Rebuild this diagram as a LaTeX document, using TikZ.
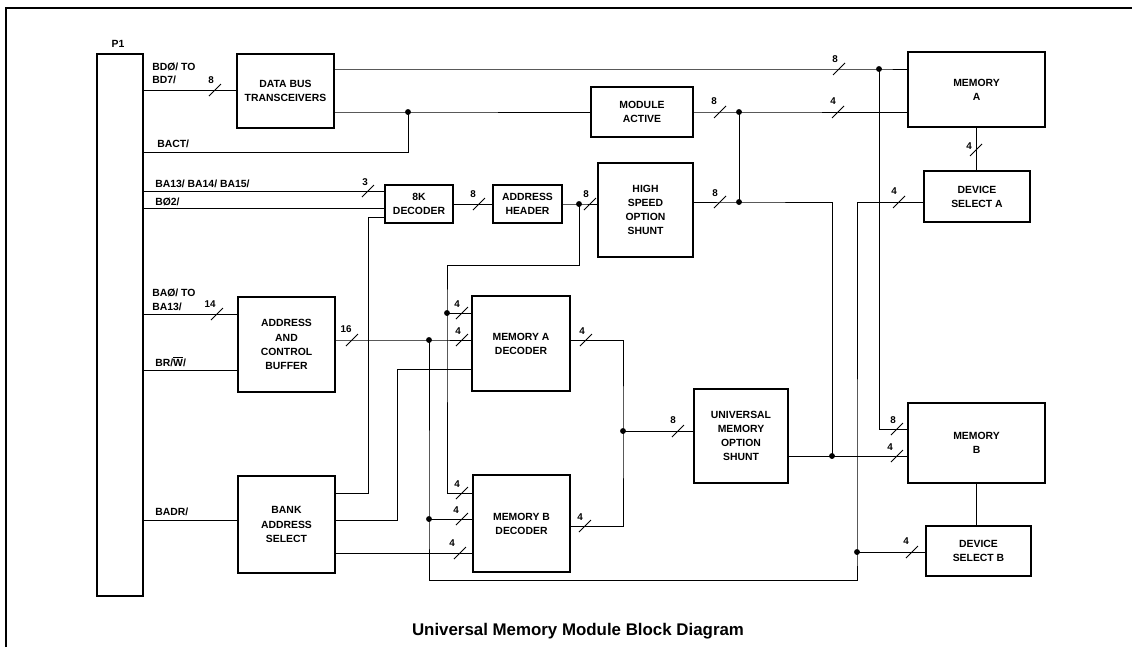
\documentclass[tikz,border=0pt]{standalone}
\usepackage{fontspec}
\setmainfont{Liberation Sans}
\usetikzlibrary{calc}

\newdimen\upx
\upx=0.025cm

\tikzset{
  bloque/.style 2 args={draw, line width=1.3pt, inner sep=0pt, align=center,
    minimum width=#1\upx, minimum height=#2\upx,
    font=\bfseries\fontsize{7.4}{10}\selectfont},
  senal/.style={anchor=mid west, inner sep=0pt, font=\bfseries\fontsize{7.4}{9}\selectfont},
  num/.style={inner sep=0pt, font=\bfseries\fontsize{7}{8}\selectfont},
  cable/.style={line width=0.7pt},
}

\begin{document}
\begin{tikzpicture}[x=0.025cm, y=-0.025cm]
\useasboundingbox (0,0) rectangle (1132,647);

% Marco
\draw[line width=1.4pt] (6,647) -- (6,8) -- (1132,8);

% Bloques
\node[bloque={46}{542}] (P1) at (120,325) {};
\node[num, font=\bfseries\fontsize{7.4}{9}\selectfont] (P1t) at (118,44) {P1};
\node[bloque={97}{74}] (DBT) at (285.5,91) {DATA BUS\\TRANSCEIVERS};
\node[bloque={102}{50}] (MA) at (642,112) {MODULE\\ACTIVE};
\node[bloque={68}{38}] (DEC8K) at (419,204) {8K\\DECODER};
\node[bloque={69}{38}] (AH) at (527.5,204) {ADDRESS\\HEADER};
\node[bloque={95}{94}] (HSOS) at (645.5,210) {HIGH\\SPEED\\OPTION\\SHUNT};
\node[bloque={97}{95}] (ACB) at (286.5,344.5) {ADDRESS\\AND\\CONTROL\\BUFFER};
\node[bloque={97}{97}] (BAS) at (286.5,524.5) {BANK\\ADDRESS\\SELECT};
\node[bloque={98}{95}] (MAD) at (521,343.5) {MEMORY A\\DECODER};
\node[bloque={97}{97}] (MBD) at (521.5,523.5) {MEMORY B\\DECODER};
\node[bloque={94}{94}] (UMOS) at (741,436) {UNIVERSAL\\MEMORY\\OPTION\\SHUNT};
\node[bloque={137}{75}] (MEMA) at (976.5,89.5) {MEMORY\\A};
\node[bloque={137}{80}] (MEMB) at (976.5,443) {MEMORY\\B};
\node[bloque={106}{51}] (DSA) at (977,196.5) {DEVICE\\SELECT A};
\node[bloque={105}{50}] (DSB) at (978.5,551) {DEVICE\\SELECT B};

% Puntos de union y esquinas
\coordinate (jDB) at (879,69);
\coordinate (jBACT) at (408,112);
\coordinate (jMA) at (739,112);
\coordinate (jHS) at (739,202);
\coordinate (jAH) at (579,204);
\coordinate (jA4) at (447,313);
\coordinate (jBUS) at (429,340);
\coordinate (jMB) at (429,519);
\coordinate (jUM) at (623,431);
\coordinate (jUB) at (832,456);
\coordinate (jDSB) at (857,552);

\coordinate (cBACT) at (408,152);
\coordinate (c8Ka) at (368,217);
\coordinate (c8Kb) at (368,493);
\coordinate (cHS) at (832,202);
\coordinate (cLa) at (579,265);
\coordinate (cLb) at (447,265);
\coordinate (cLc) at (447,493);
\coordinate (cMB8) at (879,429);
\coordinate (cRWa) at (397,520);
\coordinate (cRWb) at (397,369);
\coordinate (cB3) at (400,553);
\coordinate (cOa) at (623,340);
\coordinate (cOb) at (623,526);
\coordinate (cBa) at (429,580);
\coordinate (cBb) at (857,580);
\coordinate (cDS) at (857,202);

\foreach \n/\y in {bd/90, bact/152, ba/191, b02/208, adr/314, rw/370, badr/520}
  \coordinate (p\n) at (P1.east |- 0,\y);

% Senales de P1
\draw[cable] (pbd) -- (DBT.west |- pbd);
\draw[cable] (pbact) -- (cBACT) -- (jBACT);
\draw[cable] (pba) -- (DEC8K.west |- pba);
\draw[cable] (pb02) -- (DEC8K.west |- pb02);
\draw[cable] (padr) -- (ACB.west |- padr);
\draw[cable] (prw) -- (ACB.west |- prw);
\draw[cable] (pbadr) -- (BAS.west |- pbadr);

% Conexiones
\draw[cable] (DBT.east |- jDB) -- (jDB) -- (MEMA.west |- jDB);
\draw[cable] (jDB) -- (cMB8) -- (MEMB.west |- cMB8);
\draw[cable] (DBT.east |- jBACT) -- (jBACT) -- (MA.west |- jBACT);
\draw[cable] (MA.east |- jMA) -- (jMA) -- (MEMA.west |- jMA);
\draw[cable] (jMA) -- (jHS);
\draw[cable] (HSOS.east |- jHS) -- (jHS) -- (cHS) -- (jUB);
\draw[cable] (UMOS.east |- jUB) -- (jUB) -- (MEMB.west |- jUB);
\draw[cable] (MEMA.south) -- (MEMA.south |- DSA.north);
\draw[cable] (MEMB.south) -- (MEMB.south |- DSB.north);
\draw[cable] (DEC8K.west |- c8Ka) -- (c8Ka) -- (c8Kb) -- (BAS.east |- c8Kb);
\draw[cable] (DEC8K.east) -- (AH.west);
\draw[cable] (AH.east |- jAH) -- (jAH) -- (HSOS.west |- jAH);
\draw[cable] (jAH) -- (cLa) -- (cLb) -- (jA4) -- (cLc) -- (MBD.west |- cLc);
\draw[cable] (jA4) -- (MAD.west |- jA4);
\draw[cable] (ACB.east |- jBUS) -- (jBUS) -- (MAD.west |- jBUS);
\draw[cable] (jBUS) -- (jMB) -- (cBa) -- (cBb) -- (jDSB) -- (cDS) -- (DSA.west |- cDS);
\draw[cable] (jMB) -- (MBD.west |- jMB);
\draw[cable] (jDSB) -- (DSB.west |- jDSB);
\draw[cable] (BAS.east |- cRWa) -- (cRWa) -- (cRWb) -- (MAD.west |- cRWb);
\draw[cable] (BAS.east |- cB3) -- (MBD.west |- cB3);
\draw[cable] (MAD.east |- cOa) -- (cOa) -- (jUM) -- (cOb) -- (MBD.east |- cOb);
\draw[cable] (jUM) -- (UMOS.west |- jUM);

\foreach \j in {jDB, jBACT, jMA, jHS, jAH, jA4, jBUS, jMB, jUM, jUB, jDSB}
  \fill (\j) circle[radius=2.1pt];

% Marcas de bus
\foreach \x/\y/\lx/\ly/\t [count=\i] in {215/90/211/80/8, 368/191/365/182/3,
    479/204/473/194/8, 590/204/586/194/8, 720/112/714/101/8, 838/112/833/101/4,
    839/69/835/59/8, 720/202/715/193/8, 976/150/969/146/4, 899/202/894/191/4,
    217/314/210/304/14, 352/340/346/329/16, 462/313/457/304/4, 462/340/458/331/4,
    586/340/582/331/4, 462/493/457/484/4, 462/519/456/510/4, 460/553/452/543/4,
    585/526/580/517/4, 678/431/673/420/8, 897/429/893/420/8, 897/456/890/447/4,
    912/552/906/541/4}
{
  \draw[cable] (\x-6,\y+6) -- (\x+6,\y-6);
  \node[num] (bus\i) at (\lx,\ly) {\t};
}

% Nombres de senales
\node[senal] (sBD1) at (152,67) {BDØ/ TO};
\node[senal] (sBD2) at (152,80) {BD7/};
\node[senal] (sBACT) at (157,144) {BACT/};
\node[senal] (sBA) at (155,184) {BA13/ BA14/ BA15/};
\node[senal] (sB02) at (155,202) {BØ2/};
\node[senal] (sADR1) at (152,293) {BAØ/ TO};
\node[senal] (sADR2) at (152,307) {BA13/};
\node[senal] (sRW) at (155,363) {BR/$\overline{\mbox{W}}$/};
\node[senal] (sBADR) at (155,512) {BADR/};

\node[font=\bfseries\fontsize{12}{14}\selectfont] (titulo) at (578,631) {Universal Memory Module Block Diagram};
\end{tikzpicture}
\end{document}
